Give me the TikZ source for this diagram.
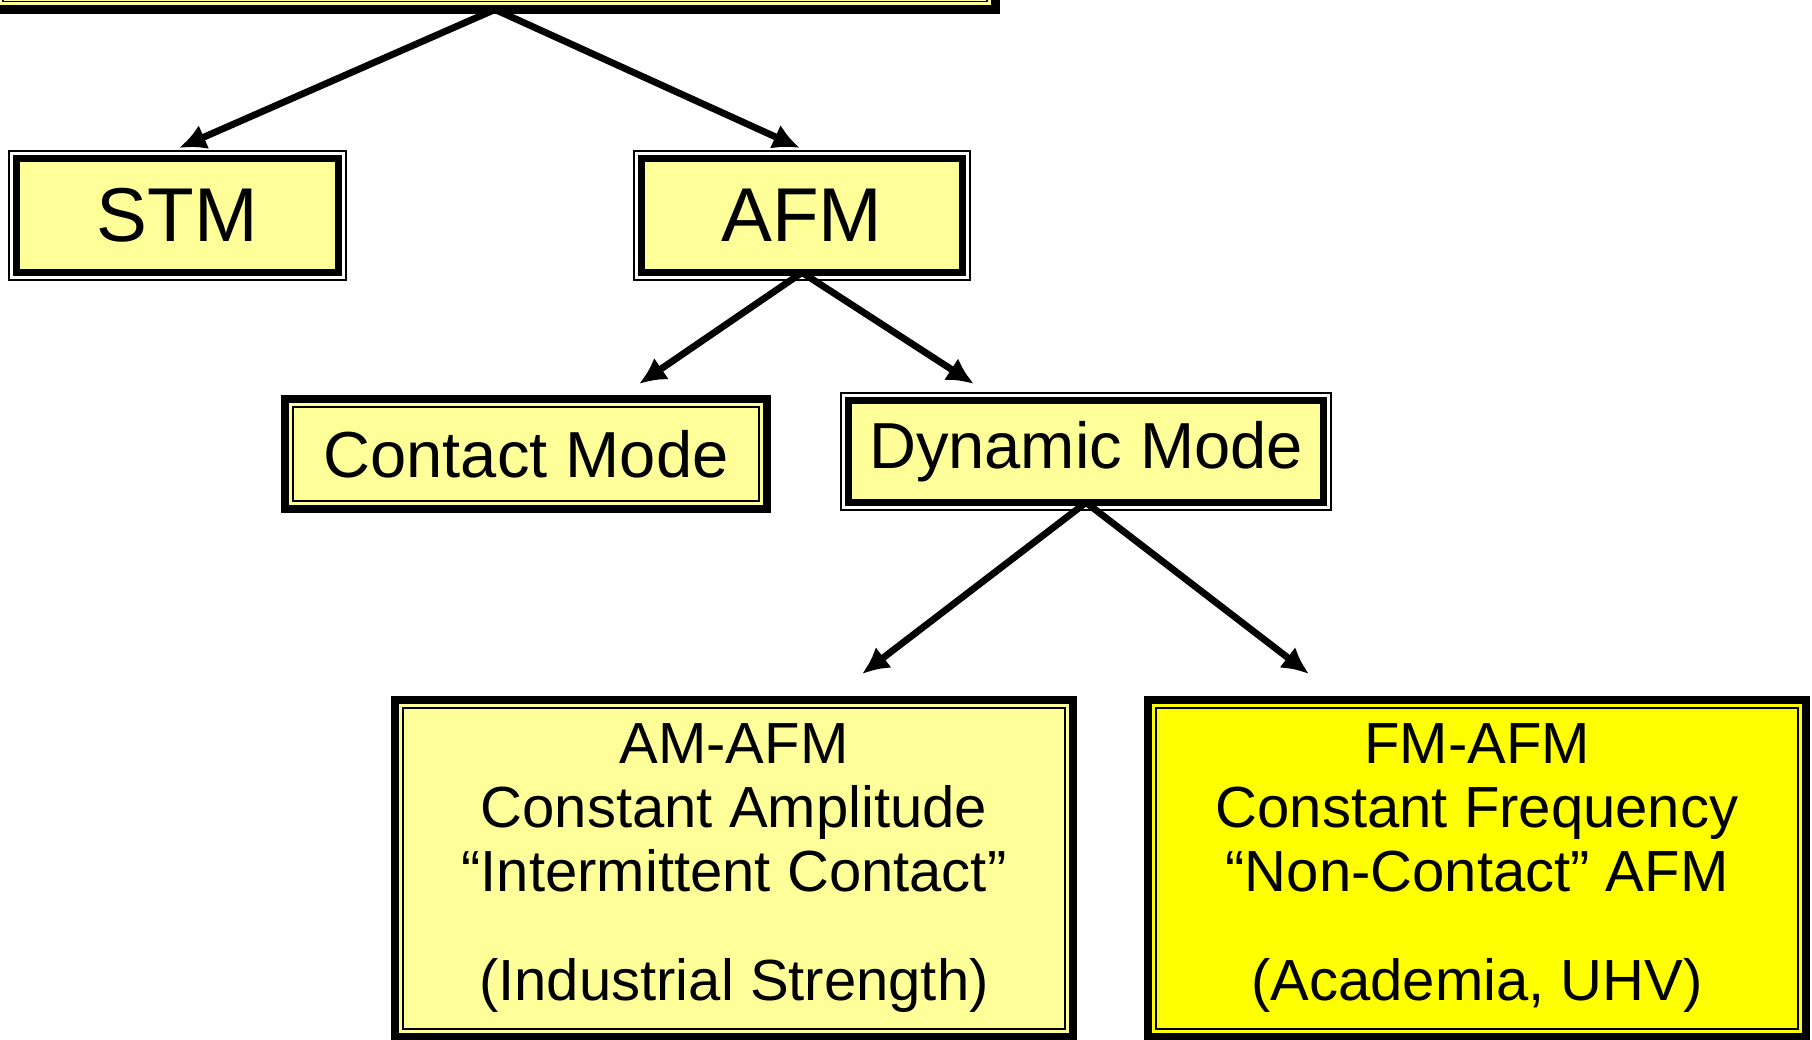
\documentclass[tikz,border=0pt]{standalone}
\usepackage{fontspec}
\setmainfont{Liberation Sans}
\usetikzlibrary{arrows.meta}

\definecolor{paleyellow}{HTML}{FFFF99}
\definecolor{brightyellow}{HTML}{FFFF00}

\begin{document}
\begin{tikzpicture}[x=0.01cm, y=-0.01cm, >={Latex[length=0.27cm, width=0.26cm]},
    boxin/.style={draw, line width=0.085cm, fill=paleyellow, inner sep=0pt, outer sep=0pt, align=center},
    boxout/.style={draw, line width=0.075cm, fill=paleyellow, inner sep=0pt, outer sep=0pt, align=center},
    rim/.style={line width=0.018cm},
    link/.style={->, line width=0.068cm}]

    % --- CANVAS ---
    \useasboundingbox (0,0) rectangle (1812,1040);

    % --- FONTS ---
    \def\fbig{\fontsize{21.7}{26}\selectfont}
    \def\fmid{\fontsize{18.5}{22}\selectfont}
    \def\fsmall{\fontsize{16.5}{18.1}\selectfont}

    % --- BOXES ---
    % top box, only its lower edge is on the page
    \node[boxin, minimum width=10cm, minimum height=1.27cm] (spm) at (495,-54) {};

    % level 1
    \node[boxout, minimum width=3.22cm, minimum height=1.14cm, font=\fbig] (stm) at (177.5,215.5) {STM};
    \node[boxout, minimum width=3.21cm, minimum height=1.14cm, font=\fbig] (afm) at (802,215.5) {AFM};

    % level 2
    \node[boxin, minimum width=4.82cm, minimum height=1.10cm, font=\fmid] (contact) at (526,454) {Contact Mode};
    \node[boxout, minimum width=4.75cm, minimum height=1.02cm, font=\fmid] (dynamic) at (1086,451.5) {Dynamic Mode};

    % level 3
    \node[boxin, minimum width=6.78cm, minimum height=3.37cm, font=\fsmall] (amafm) at (734,868.5)
        {AM-AFM\\Constant Amplitude\\“Intermittent Contact”\\[0.46cm](Industrial Strength)};
    \node[boxin, fill=brightyellow, minimum width=6.58cm, minimum height=3.37cm, font=\fsmall] (fmafm) at (1477,868.5)
        {FM-AFM\\Constant Frequency\\“Non-Contact” AFM\\[0.46cm](Academia, UHV)};

    % --- THIN RIMS ---
    % thin line inside the thick border
    \foreach \n in {spm, contact, amafm, fmafm}
        \draw[rim] ([xshift=0.08cm, yshift=-0.08cm]\n.north west) rectangle ([xshift=-0.08cm, yshift=0.08cm]\n.south east);
    % thin line outside the thick border
    \foreach \n in {stm, afm, dynamic}
        \draw[rim] ([xshift=-0.075cm, yshift=0.075cm]\n.north west) rectangle ([xshift=0.075cm, yshift=-0.075cm]\n.south east);

    % --- ARROW TIPS ---
    \coordinate (stmtip) at (179,148);
    \coordinate (afmtip) at (800,148);
    \coordinate (contacttip) at (639,384);
    \coordinate (dynamictip) at (974,384);
    \coordinate (amtip) at (862,674);
    \coordinate (fmtip) at (1309,674);

    % --- ARROWS ---
    \draw[link] (spm.south) -- (stmtip);
    \draw[link] (spm.south) -- (afmtip);
    \draw[link] (afm.south) -- (contacttip);
    \draw[link] (afm.south) -- (dynamictip);
    \draw[link] (dynamic.south) -- (amtip);
    \draw[link] (dynamic.south) -- (fmtip);

\end{tikzpicture}
\end{document}
